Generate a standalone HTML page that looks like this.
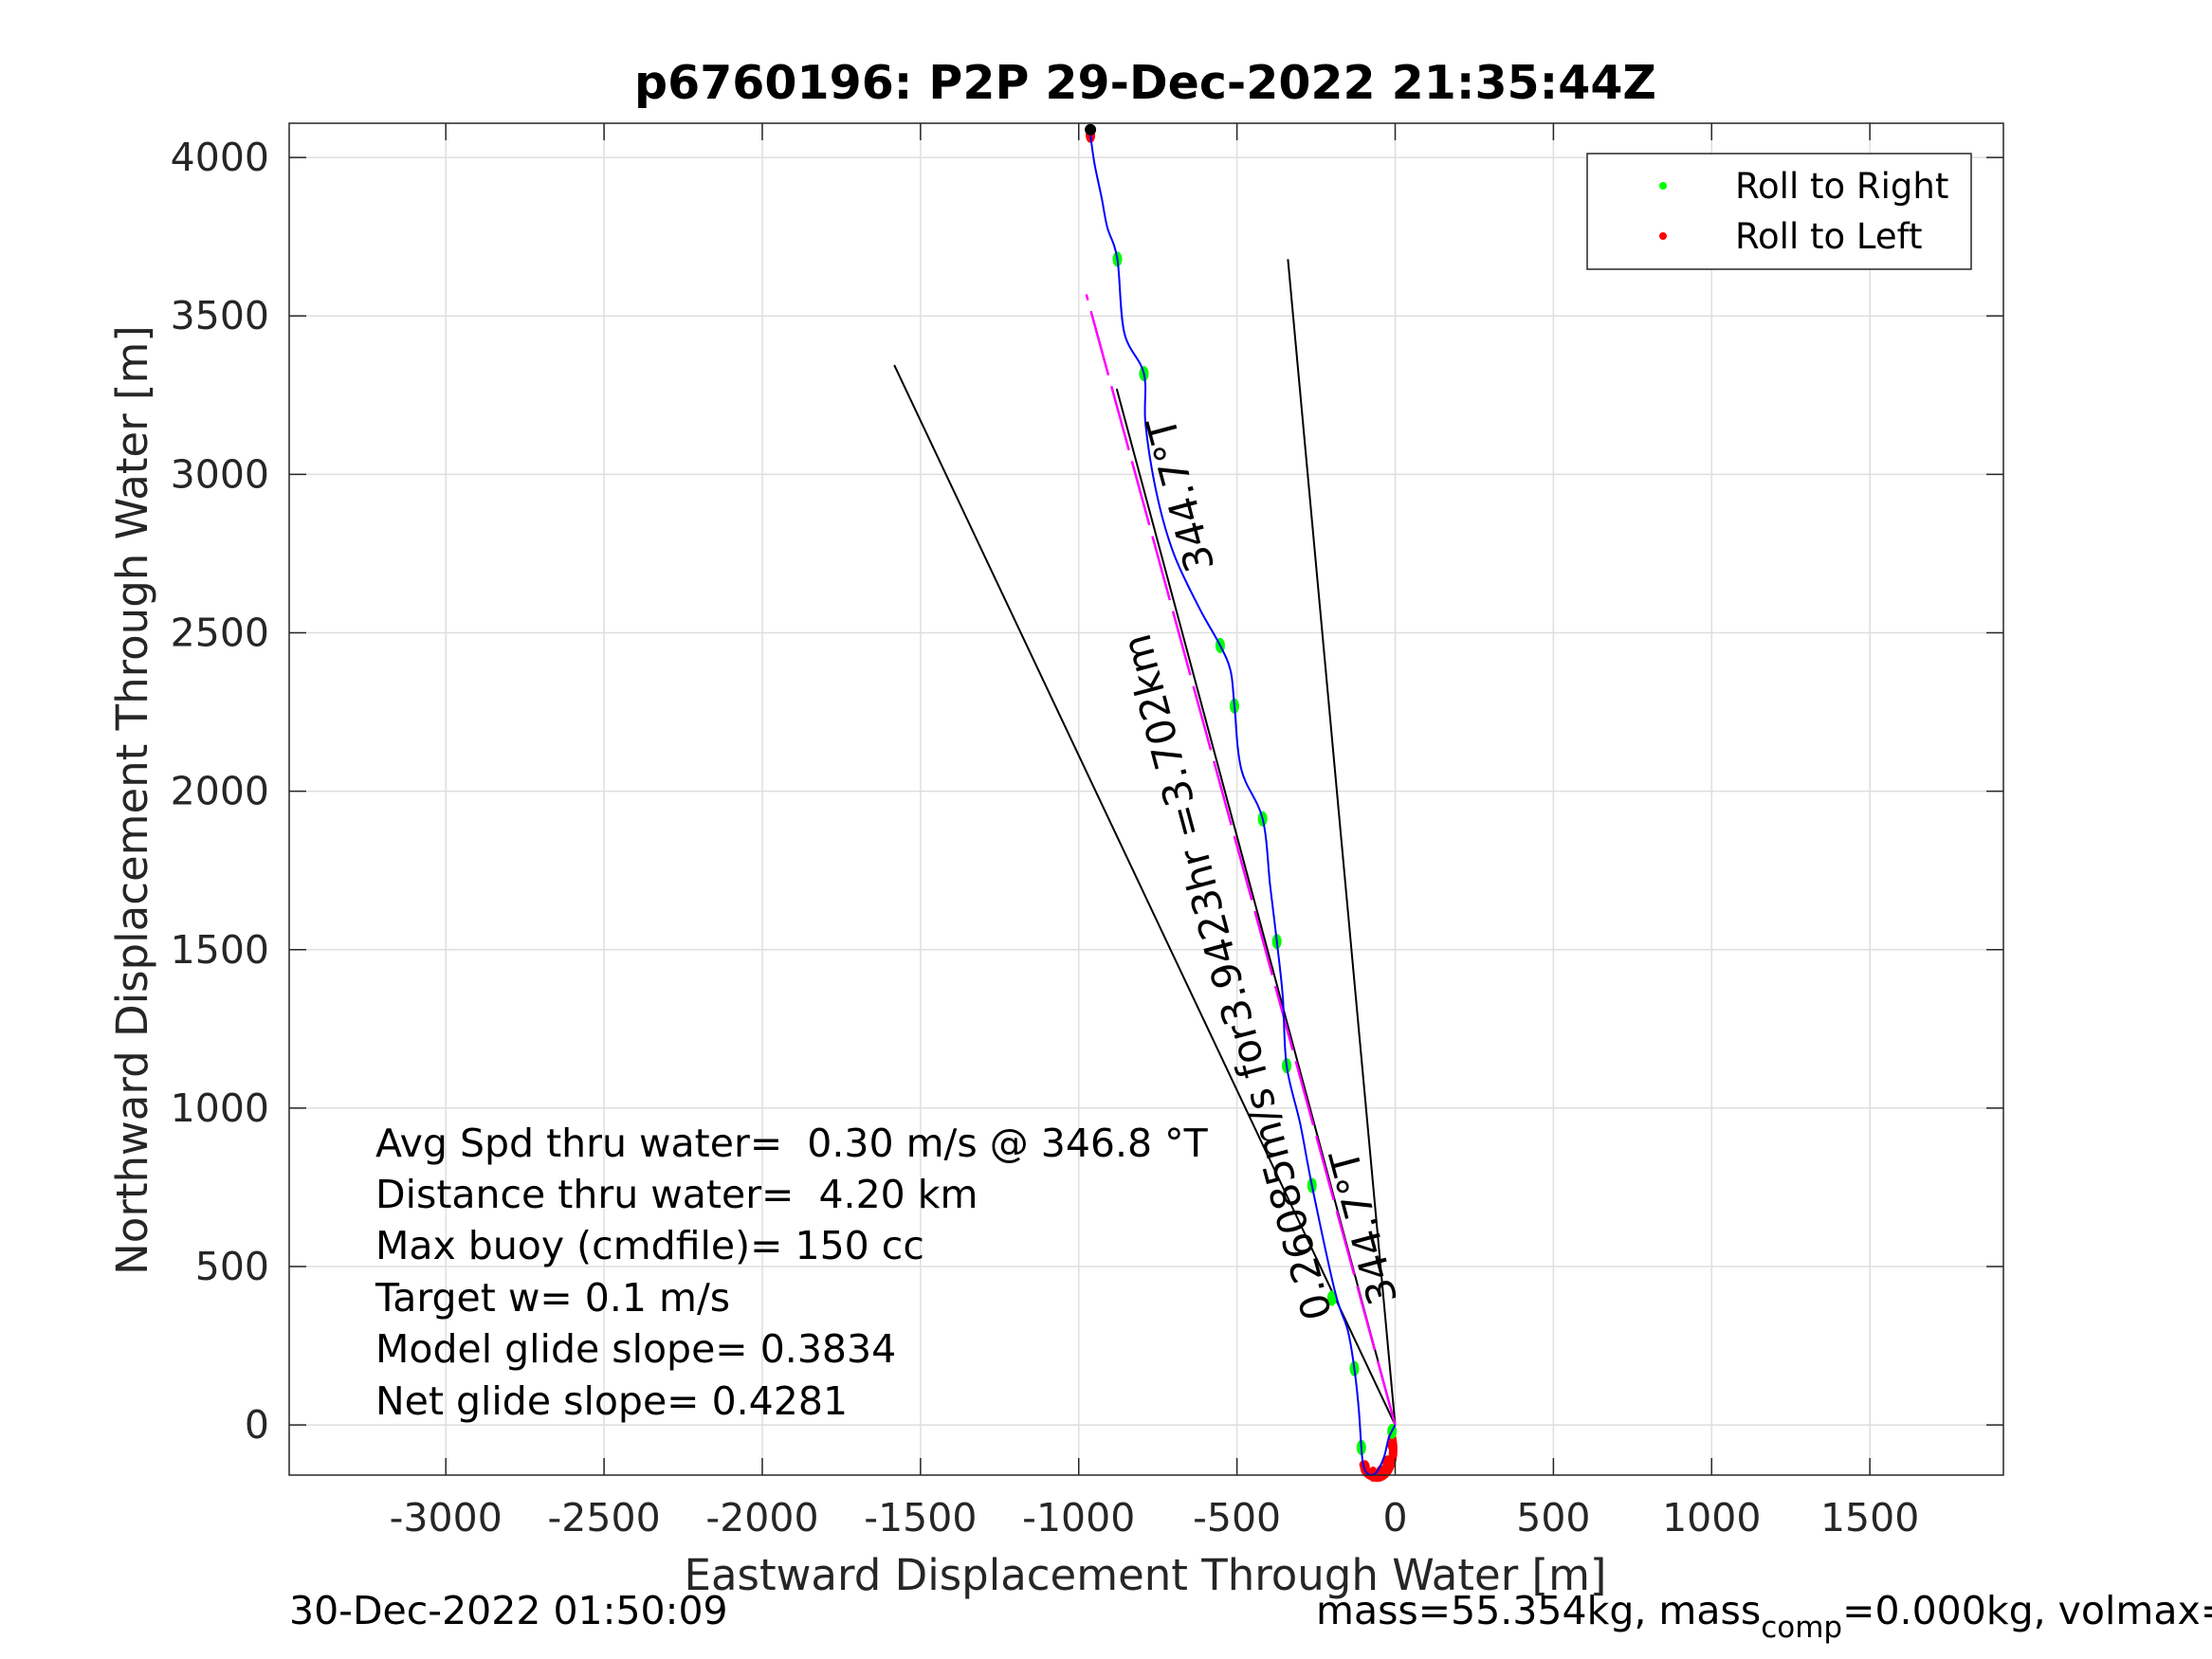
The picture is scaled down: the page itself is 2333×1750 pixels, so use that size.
<!DOCTYPE html>
<html><head><meta charset="utf-8"><style>
html,body{margin:0;padding:0;background:#fff;}
svg{display:block;font-family:"DejaVu Sans","Liberation Sans",sans-serif;}
</style></head><body>
<svg id="chart" width="2333" height="1750" viewBox="0 0 2333 1750">
<rect width="2333" height="1750" fill="#fff"/>
<rect x="305" y="130" width="1808" height="1426" fill="#fff"/>
<g id="grid"></g>
<g id="marks"></g>
<g id="axes"></g>
<text x="1208" y="104" font-size="49" font-weight="bold" text-anchor="middle" fill="#000">p6760196: P2P 29-Dec-2022 21:35:44Z</text>
<text x="1208" y="1677" font-size="45" text-anchor="middle" fill="#262626">Eastward Displacement Through Water [m]</text>
<text transform="translate(155,844) rotate(-90)" font-size="45" text-anchor="middle" fill="#262626">Northward Displacement Through Water [m]</text>
<g font-size="41" fill="#000">
<text x="396" y="1220">Avg Spd thru water=&#160; 0.30 m/s @ 346.8 °T</text>
<text x="396" y="1274">Distance thru water=&#160; 4.20 km</text>
<text x="396" y="1328">Max buoy (cmdfile)= 150 cc</text>
<text x="396" y="1383">Target w= 0.1 m/s</text>
<text x="396" y="1437">Model glide slope= 0.3834</text>
<text x="396" y="1492">Net glide slope= 0.4281</text>
</g>
<text x="305" y="1713" font-size="41" fill="#000">30-Dec-2022 01:50:09</text>
<text x="1388" y="1713" font-size="41" fill="#000">mass=55.354kg, mass<tspan dy="14" font-size="31">comp</tspan><tspan dy="-14">=0.000kg, volmax=...</tspan></text>
<g>
<rect x="1674" y="162" width="405" height="122" fill="#fff" stroke="#262626" stroke-width="1.5"/>
<circle cx="1754" cy="196" r="4" fill="#00ff00"/>
<text x="1830" y="209" font-size="37" fill="#000">Roll to Right</text>
<circle cx="1754" cy="249" r="4" fill="#ff0000"/>
<text x="1830" y="262" font-size="37" fill="#000">Roll to Left</text>
</g>
</svg>
<script>
var xTicks=[-3000,-2500,-2000,-1500,-1000,-500,0,500,1000,1500];
var yTicks=[0,500,1000,1500,2000,2500,3000,3500,4000];
var trackX=[0,-20,-35,-60,-85,-100,-107,-115,-129,-150,-190,-263,-300,-343,-355,-374,-395,-419,-486,-508,-520,-553,-620,-700,-753,-789,-794,-856,-878,-910,-927,-950,-963];
var trackY=[0,-40,-100,-150,-155,-130,-71,50,178,300,420,756,950,1134,1350,1526,1700,1913,2068,2269,2380,2460,2580,2750,2936,3158,3318,3447,3679,3780,3870,3980,4070];
var rightX=[-10,-107,-129,-200,-263,-343,-374,-419,-508,-553,-794,-878];
var rightY=[-20,-71,178,400,756,1134,1526,1913,2269,2460,3318,3679];
var leftX=[-10,-25,-45,-70,-95,-963];
var leftY=[-60,-120,-150,-155,-135,4070];
var rayEndX=[-1583,-339];
var rayEndY=[3345,3679];
var headingEnd=[-976,3568];
var blackHeadingEnd=[-880,3270];
var X0=-3495,X1=1922,Y0=-158,Y1=4108;
var PL=305,PR=2113,PT=130,PB=1556;
function sx(v){return PL+(v-X0)/(X1-X0)*(PR-PL);}
function sy(v){return PB-(v-Y0)/(Y1-Y0)*(PB-PT);}
var SVGNS="http://www.w3.org/2000/svg";
function mk(tag,attrs,parent){var e=document.createElementNS(SVGNS,tag);for(var k in attrs)e.setAttribute(k,attrs[k]);parent.appendChild(e);return e;}
var gridG=document.getElementById('grid'),marksG=document.getElementById('marks'),axesG=document.getElementById('axes');
xTicks.forEach(function(t){
 var g=mk('line',{x1:sx(t),x2:sx(t),y1:PT,y2:PB,stroke:'#dedede','stroke-width':1.5},gridG);
 
 
 mk('line',{x1:sx(t),x2:sx(t),y1:PB,y2:PB-18,stroke:'#262626','stroke-width':1.5},axesG);
 mk('line',{x1:sx(t),x2:sx(t),y1:PT,y2:PT+18,stroke:'#262626','stroke-width':1.5},axesG);
 var tx=mk('text',{x:sx(t),y:1615,'font-size':41,'text-anchor':'middle',fill:'#262626'},axesG);
 tx.textContent=String(t);
 
 
});
yTicks.forEach(function(t){
 var g=mk('line',{x1:PL,x2:PR,y1:sy(t),y2:sy(t),stroke:'#dedede','stroke-width':1.5},gridG);
 
 
 mk('line',{x1:PL,x2:PL+18,y1:sy(t),y2:sy(t),stroke:'#262626','stroke-width':1.5},axesG);
 mk('line',{x1:PR,x2:PR-18,y1:sy(t),y2:sy(t),stroke:'#262626','stroke-width':1.5},axesG);
 var tx=mk('text',{x:284,y:sy(t)+14,'font-size':41,'text-anchor':'end',fill:'#262626'},axesG);
 tx.textContent=String(t);
 
 
});
var boxR=mk('rect',{x:PL,y:PT,width:PR-PL,height:PB-PT,fill:'none',stroke:'#262626','stroke-width':1.5},axesG);


rayEndX.forEach(function(ex,i){
 var l=mk('line',{x1:sx(0),y1:sy(0),x2:sx(ex),y2:sy(rayEndY[i]),stroke:'#000','stroke-width':2},marksG);
 
 
});
var hb=mk('line',{x1:sx(0),y1:sy(0),x2:sx(blackHeadingEnd[0]),y2:sy(blackHeadingEnd[1]),stroke:'#000','stroke-width':2},marksG);


var hm=mk('line',{x1:sx(0),y1:sy(0),x2:sx(headingEnd[0]),y2:sy(headingEnd[1]),stroke:'#ff00ff','stroke-width':2.5,'stroke-dasharray':'70 12'},marksG);


leftX.forEach(function(v,i){
 var c=mk('ellipse',{cx:sx(v),cy:sy(leftY[i]),rx:5,ry:8,fill:'#ff0000'},marksG);
 
 
});
var lp=mk('path',{d:'M'+sx(-10)+','+sy(-40)+' C'+sx(5)+','+sy(-120)+' '+sx(-30)+','+sy(-175)+' '+sx(-65)+','+sy(-165)+' S'+sx(-95)+','+sy(-135)+' '+sx(-100)+','+sy(-125),fill:'none',stroke:'#ff0000','stroke-width':9,'stroke-linecap':'round'},marksG);


rightX.forEach(function(v,i){
 var c=mk('ellipse',{cx:sx(v),cy:sy(rightY[i]),rx:5,ry:8,fill:'#00ff00'},marksG);
 
 
});
var pts=trackX.map(function(v,i){return [sx(v),sy(trackY[i])];});
var pathD='M'+pts[0][0].toFixed(1)+','+pts[0][1].toFixed(1);
for(var i=0;i<pts.length-1;i++){
 var p0=pts[Math.max(0,i-1)],p1=pts[i],p2=pts[i+1],p3=pts[Math.min(pts.length-1,i+2)];
 var c1x=p1[0]+(p2[0]-p0[0])/6,c1y=p1[1]+(p2[1]-p0[1])/6;
 var c2x=p2[0]-(p3[0]-p1[0])/6,c2y=p2[1]-(p3[1]-p1[1])/6;
 pathD+=' C'+c1x.toFixed(1)+','+c1y.toFixed(1)+' '+c2x.toFixed(1)+','+c2y.toFixed(1)+' '+p2[0].toFixed(1)+','+p2[1].toFixed(1);
}
var tr=mk('path',{d:pathD,fill:'none',stroke:'#0000ff','stroke-width':2},marksG);


var ed=mk('circle',{cx:sx(trackX[trackX.length-1]),cy:sy(trackY[trackY.length-1])-6,r:6,fill:'#000'},marksG);


var labels=[["344.7°T",1248,521],["0.26085m/s for3.9423hr =3.702km",1297,1030],["344.7°T",1441,1294]];
labels.forEach(function(l){
 var t=mk('text',{transform:'translate('+l[1]+','+l[2]+') rotate(-105)','font-size':42,'text-anchor':'middle','dominant-baseline':'middle',fill:'#000'},marksG);
 t.textContent=l[0];
 
 
});
</script>
</body></html>
